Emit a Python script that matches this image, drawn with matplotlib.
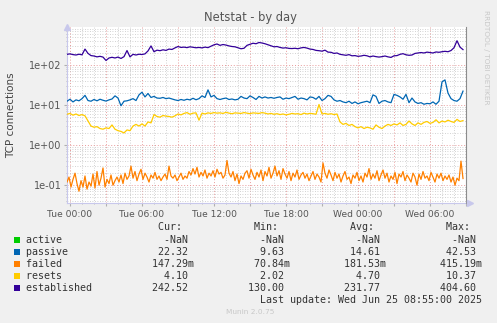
import matplotlib
matplotlib.use('Agg')
import matplotlib.pyplot as plt
import matplotlib.dates as mdates
from matplotlib.patches import Rectangle
from matplotlib.ticker import LogLocator, FuncFormatter, NullFormatter
import numpy as np
import pandas as pd

# 15 minute samples, Mon 23:45 .. Wed 08:45
times = pd.date_range('2025-06-23 23:45', periods=133, freq='15min')
# failed is noisier, kept at 10 minute samples
times_failed = pd.date_range('2025-06-23 23:45', periods=199, freq='10min')

established = [
    185, 190, 182, 178, 186, 180, 250, 195, 172, 168, 160, 165,
    158, 130, 150, 156, 150, 158, 146, 162, 230, 160, 185, 178,
    186, 183, 190, 225, 300, 215, 235, 228, 240, 232, 250, 245,
    268, 290, 275, 280, 272, 285, 278, 270, 275, 268, 280, 272,
    295, 320, 335, 310, 325, 315, 300, 290, 285, 270, 255, 262,
    310, 330, 350, 340, 365, 355, 340, 320, 300, 285, 290, 275,
    265, 270, 260, 258, 262, 255, 268, 275, 265, 250, 245, 232,
    228, 222, 235, 210, 208, 195, 200, 185, 180, 175, 182, 170,
    172, 165, 168, 175, 170, 160, 168, 162, 158, 162, 168, 160,
    155, 170, 172, 185, 192, 180, 175, 178, 195, 200, 205, 200,
    210, 205, 200, 212, 208, 215, 220, 215, 230, 270, 404.6, 280,
    242.52,
]

passive = [
    12.5, 14.0, 12.0, 13.5, 12.8, 14.5, 17.5, 13.0, 12.5, 13.8, 12.8, 14.0,
    13.2, 12.6, 13.5, 14.2, 17.0, 15.0, 9.63, 12.5, 12.8, 13.5, 14.5, 13.0,
    18.0, 21.0, 16.0, 19.5, 15.5, 16.5, 15.0, 14.8, 15.5, 14.5, 15.0, 14.2,
    13.5, 13.0, 13.8, 13.2, 14.0, 13.5, 14.8, 13.6, 14.5, 17.0, 15.5, 24.0,
    16.0, 17.5, 14.5, 13.8, 14.5, 15.0, 13.8, 14.2, 13.5, 14.0, 16.5, 15.0,
    14.5, 17.0, 15.5, 13.8, 16.5, 15.0, 16.0, 15.0, 15.5, 14.8, 15.5, 16.0,
    14.0, 15.0, 14.5, 15.5, 16.5, 14.0, 15.0, 14.5, 13.5, 16.0, 15.5, 14.0,
    16.5, 13.0, 14.5, 17.5, 16.5, 13.5, 12.5, 13.0, 12.0, 11.5, 12.5, 11.0,
    12.0, 10.8, 11.5, 12.0, 12.5, 11.5, 18.0, 16.5, 11.0, 12.5, 13.0, 12.0,
    11.5, 18.5, 17.5, 16.0, 14.0, 18.5, 11.5, 15.0, 12.0, 11.0, 11.5, 10.5,
    11.0, 10.8, 12.0, 10.5, 12.5, 38.0, 42.53, 20.0, 14.5, 13.0, 12.5, 14.5,
    22.32,
]

failed = [
    0.12, 0.16, 0.09, 0.14, 0.20, 0.11, 0.0708, 0.13, 0.09, 0.17, 0.08, 0.12,
    0.095, 0.19, 0.085, 0.22, 0.10, 0.15, 0.27, 0.09, 0.14, 0.11, 0.18, 0.10,
    0.13, 0.16, 0.12, 0.18, 0.11, 0.20, 0.14, 0.17, 0.30, 0.15, 0.22, 0.13,
    0.19, 0.25, 0.14, 0.20, 0.16, 0.12, 0.18, 0.15, 0.21, 0.14, 0.17, 0.13,
    0.16, 0.19, 0.14, 0.30, 0.17, 0.15, 0.18, 0.13, 0.16, 0.20, 0.14, 0.17,
    0.15, 0.22, 0.18, 0.26, 0.19, 0.28, 0.16, 0.21, 0.17, 0.24, 0.15, 0.20,
    0.17, 0.23, 0.16, 0.25, 0.19, 0.21, 0.15, 0.18, 0.415, 0.20, 0.16, 0.22,
    0.13, 0.19, 0.11, 0.17, 0.14, 0.20, 0.23, 0.15, 0.25, 0.18, 0.14, 0.21,
    0.16, 0.24, 0.13, 0.22, 0.17, 0.28, 0.15, 0.20, 0.30, 0.17, 0.23, 0.14,
    0.26, 0.19, 0.15, 0.22, 0.13, 0.20, 0.16, 0.24, 0.14, 0.18, 0.21, 0.15,
    0.19, 0.13, 0.17, 0.22, 0.14, 0.19, 0.16, 0.12, 0.36, 0.20, 0.15, 0.24,
    0.18, 0.13, 0.21, 0.15, 0.19, 0.12, 0.17, 0.22, 0.14, 0.16, 0.11, 0.18,
    0.15, 0.21, 0.13, 0.17, 0.12, 0.20, 0.16, 0.26, 0.14, 0.19, 0.15, 0.23,
    0.13, 0.18, 0.24, 0.15, 0.20, 0.12, 0.17, 0.14, 0.21, 0.11, 0.19, 0.16,
    0.22, 0.13, 0.18, 0.15, 0.12, 0.20, 0.16, 0.10, 0.19, 0.14, 0.22, 0.15,
    0.17, 0.13, 0.21, 0.16, 0.12, 0.19, 0.15, 0.20, 0.13, 0.17, 0.14, 0.18,
    0.12, 0.16, 0.10, 0.15, 0.13, 0.40, 0.147,
]

resets = [
    5.9, 6.2, 5.6, 6.0, 5.5, 5.8, 5.4, 4.0, 3.0, 2.8, 2.9, 2.6,
    2.5, 2.7, 2.6, 3.2, 2.5, 2.3, 2.2, 2.02, 2.4, 2.3, 3.0, 3.3,
    3.0, 3.4, 3.0, 3.8, 3.6, 5.8, 5.2, 5.0, 5.5, 5.3, 5.2, 5.0,
    5.4, 6.0, 5.7, 6.2, 6.5, 5.9, 6.3, 6.4, 4.2, 6.3, 6.0, 6.4,
    6.2, 6.5, 6.3, 6.4, 6.2, 6.6, 6.3, 6.1, 6.4, 6.3, 6.2, 6.5,
    6.3, 6.1, 6.4, 6.3, 6.2, 6.5, 6.3, 6.0, 6.2, 5.9, 6.1, 5.8,
    6.0, 5.7, 5.9, 6.2, 6.0, 6.1, 5.8, 6.3, 6.0, 6.2, 6.1, 5.9,
    10.37, 6.0, 6.2, 5.9, 6.1, 5.8, 6.0, 3.8, 3.3, 3.5, 3.1, 3.3,
    2.9, 2.7, 2.9, 2.6, 2.8, 2.7, 2.5, 3.2, 2.8, 2.6, 3.0, 3.3,
    3.1, 3.4, 3.2, 3.6, 3.1, 3.3, 4.0, 3.4, 3.1, 3.6, 3.3, 3.7,
    3.9, 3.5, 3.7, 4.3, 3.6, 4.0, 3.8, 4.2, 3.9, 3.7, 4.4, 3.9,
    4.10,
]

# active has no data at all
active = [np.nan] * len(times)

labels = ['active', 'passive', 'failed', 'resets', 'established']
colors = ['#00CC00', '#0066B3', '#FF8000', '#FFCC00', '#330099']
cur = ['-NaN ', '22.32 ', '147.29m', '4.10 ', '242.52 ']
mins = ['-NaN ', '9.63 ', '70.84m', '2.02 ', '130.00 ']
avgs = ['-NaN ', '14.61 ', '181.53m', '4.70 ', '231.77 ']
maxs = ['-NaN ', '42.53 ', '415.19m', '10.37 ', '404.60 ']

W, H = 497, 323
fig = plt.figure(figsize=(W / 100, H / 100), dpi=100, facecolor='#F0F0F0')
ax = fig.add_axes([67 / W, 1 - 203 / H, 399 / W, 176 / H])
ax.set_facecolor('white')

series = [(times, active), (times, passive), (times_failed, failed),
          (times, resets), (times, established)]
for (tx, vals), c in zip(series, colors):
    ax.plot(tx, vals, color=c, lw=0.9, zorder=3)

ax.set_yscale('log')
ax.set_ylim(0.036, 890)
ax.set_xlim(pd.Timestamp('2025-06-23 23:45'), pd.Timestamp('2025-06-25 09:00'))

ax.yaxis.set_major_locator(LogLocator(base=10, numticks=10))
ax.yaxis.set_minor_locator(LogLocator(base=10, subs=np.arange(2, 10), numticks=20))
ax.yaxis.set_major_formatter(FuncFormatter(lambda v, p: f'{v:.0e}'))
ax.yaxis.set_minor_formatter(NullFormatter())


def xfmt(v, p):
    d = mdates.num2date(v)
    return d.strftime('%a %H:%M') if d.hour % 6 == 0 else ''


ax.xaxis.set_major_locator(mdates.HourLocator(byhour=range(0, 24, 3)))
ax.xaxis.set_minor_locator(mdates.HourLocator())
ax.xaxis.set_major_formatter(FuncFormatter(xfmt))

ax.grid(which='major', color='#E89A9A', linestyle=(0, (1, 2)), lw=0.7)
ax.grid(which='minor', color='#C4C4C4', linestyle=(0, (1, 2)), lw=0.6)
ax.set_axisbelow(True)

axis_c = '#C8C8EC'
ax.spines['top'].set_visible(False)
ax.spines['left'].set_color(axis_c)
ax.spines['bottom'].set_color(axis_c)
ax.spines['right'].set_color('#8C8C8C')
ax.spines['right'].set_zorder(4)
ax.tick_params(which='both', length=2, color='#B0B0B0', labelsize=7,
               labelcolor='#555555', pad=2)
ax.tick_params(axis='x', labelsize=6.6, pad=3)
ax.tick_params(which='minor', length=1)

# axis arrows
ax.plot([0], [1.0], marker='^', ms=5, color=axis_c, transform=ax.transAxes,
        clip_on=False, zorder=5)
ax.plot([1.01], [0], marker='>', ms=5, color=axis_c, transform=ax.transAxes,
        clip_on=False, zorder=5)

fig.text(250 / W, 1 - 18 / H, 'Netstat - by day', ha='center', va='center',
         fontsize=8.3, color='#555555')
fig.text(11 / W, 1 - 115 / H, 'TCP connections', rotation=90, ha='center',
         va='center', fontsize=7.5, color='#444444')
fig.text(486 / W, 1 - 57 / H, 'RRDTOOL / TOBI OETIKER', rotation=270,
         ha='center', va='center', fontsize=5.3, color='#C8C8C8')

# legend block in monospace columns
mono = dict(family='DejaVu Sans Mono', fontsize=7.2, color='#333333',
            va='center', ha='left')
header = 'Cur:'.rjust(26) + 'Min:'.rjust(16) + 'Avg:'.rjust(16) + 'Max:'.rjust(16)
fig.text(26 / W, 1 - 227 / H, header, **mono)
for k, (lab, c) in enumerate(zip(labels, colors)):
    y = 240 + 12 * k
    fig.patches.append(Rectangle((14 / W, 1 - (y + 3) / H), 6 / W, 6 / H,
                                 transform=fig.transFigure, facecolor=c,
                                 edgecolor='none'))
    row = lab.ljust(21) + cur[k].rjust(7) + mins[k].rjust(16) + \
        avgs[k].rjust(16) + maxs[k].rjust(16)
    fig.text(26 / W, 1 - y / H, row, **mono)

last = 'Last update: Wed Jun 25 08:55:00 2025'
fig.text(26 / W, 1 - 300 / H, last.rjust(76), **mono)
fig.text(250 / W, 1 - 312 / H, 'Munin 2.0.75', ha='center', va='center',
         fontsize=5.3, color='#C8C8C8')

fig.savefig('out.png', dpi=100, facecolor=fig.get_facecolor())
